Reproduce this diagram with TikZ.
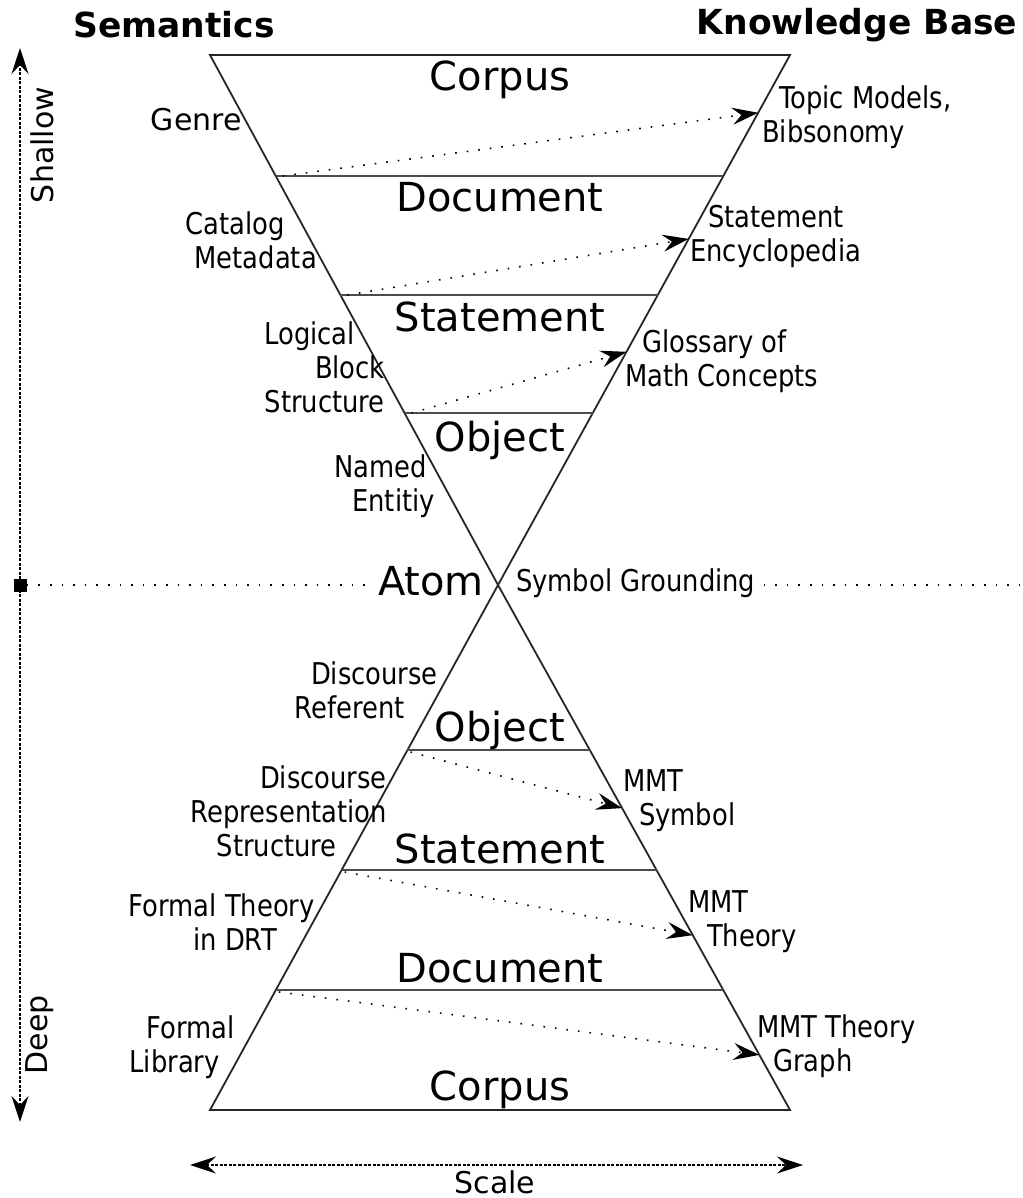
\documentclass[tikz,border=0pt]{standalone}
\usepackage{fontspec}
\setmainfont{DejaVu Sans}
\newfontfamily\condfont{DejaVu Sans}[FakeStretch=0.86]
\usetikzlibrary{arrows.meta,calc}

\begin{document}
\begin{tikzpicture}[x=1pt,y=-1pt,
  edge/.style={line width=1.8pt, line join=miter, black!85},
  level/.style={line width=2pt, draw=black!70},
  big/.style={font=\fontsize{40}{46}\selectfont, inner sep=0pt, anchor=base},
  head/.style={font=\bfseries\fontsize{34.5}{40}\selectfont, inner sep=0pt},
  axislbl/.style={font=\fontsize{30}{36}\selectfont, inner sep=0pt},
  lbl/.style={font=\condfont\fontsize{30}{34}\selectfont, inner sep=0pt},
  lblr/.style={lbl, align=right, anchor=east},
  lbll/.style={lbl, align=left, anchor=west},
  conn/.style={line width=1.6pt, dash pattern=on 1.6pt off 10pt, black,
    -{Stealth[length=26pt,width=17pt,inset=9pt]}},
  axisarrow/.style={line width=1.4pt, dash pattern=on 3pt off 1.5pt, black,
    {Stealth[length=26pt,width=17pt,inset=9pt]}-{Stealth[length=26pt,width=17pt,inset=9pt]}},
  dotline/.style={line width=1.6pt, dash pattern=on 1.6pt off 10pt, black},
]
\useasboundingbox (0,0) rectangle (1022,1198);

% funnel corners
\coordinate (TL) at (210,55);
\coordinate (TR) at (790,55);
\coordinate (A)  at (498,585);
\coordinate (BL) at (210,1110);
\coordinate (BR) at (790,1110);

\draw[edge] (TL) -- (TR) -- (A) -- (BL) -- (BR) -- (A) -- cycle;

% level lines (top)
\coordinate (t1l) at ($(TL)!0.2283!(A)$); \coordinate (t1r) at ($(TR)!0.2283!(A)$);
\coordinate (t2l) at ($(TL)!0.4528!(A)$); \coordinate (t2r) at ($(TR)!0.4528!(A)$);
\coordinate (t3l) at ($(TL)!0.6755!(A)$); \coordinate (t3r) at ($(TR)!0.6755!(A)$);
\draw[level] (t1l) -- (t1r);
\draw[level] (t2l) -- (t2r);
\draw[level] (t3l) -- (t3r);
% level lines (bottom)
\coordinate (b1l) at ($(A)!0.3143!(BL)$); \coordinate (b1r) at ($(A)!0.3143!(BR)$);
\coordinate (b2l) at ($(A)!0.5429!(BL)$); \coordinate (b2r) at ($(A)!0.5429!(BR)$);
\coordinate (b3l) at ($(A)!0.7714!(BL)$); \coordinate (b3r) at ($(A)!0.7714!(BR)$);
\draw[level] (b1l) -- (b1r);
\draw[level] (b2l) -- (b2r);
\draw[level] (b3l) -- (b3r);

% arrow targets on the right edge
\coordinate (r1) at ($(TR)!0.109!(A)$);
\coordinate (r2) at ($(TR)!0.347!(A)$);
\coordinate (r3) at ($(TR)!0.560!(A)$);
\coordinate (r4) at ($(A)!0.425!(BR)$);
\coordinate (r5) at ($(A)!0.667!(BR)$);
\coordinate (r6) at ($(A)!0.895!(BR)$);

\draw[conn] ($(t1l)+(7,0)$) -- (r1);
\draw[conn] ($(t2l)+(7,0)$) -- (r2);
\draw[conn] ($(t3l)+(7,0)$) -- (r3);
\draw[conn] ($(b1l)+(3,2)$) -- (r4);
\draw[conn] ($(b2l)+(3,2)$) -- (r5);
\draw[conn] ($(b3l)+(3,2)$) -- (r6);

% headers
\node[head] (sem) at (174,25) {Semantics};
\node[head] (kb) at (857,25) {Knowledge Base};

% level names
\node[big] (corpus1) at (500,91) {Corpus};
\node[big] (doc1) at (500,212) {Document};
\node[big] (stmt1) at (500,331) {Statement};
\node[big] (obj1) at (500,451) {Object};
\node[big] (atom) at (431,595) {Atom};
\node[big] (obj2) at (500,741) {Object};
\node[big] (stmt2) at (500,863) {Statement};
\node[big] (doc2) at (500,982) {Document};
\node[big] (corpus2) at (500,1100) {Corpus};

% left labels (top)
\node[lblr, font=\fontsize{30}{34}\selectfont] (genre) at (242,120) {Genre};
\node[lblr] (catalog) at (317,240) {Catalog\hspace*{32pt}\\Metadata};
\node[lblr] (logical) at (385,367) {Logical\hspace*{30pt}\\Block\hspace*{19pt}\\Structure};
\node[lblr] (named) at (435,486) {Named\hspace*{8pt}\\Entitiy};
% right labels (top)
\node[lbll] (topic) at (762,117) {\hspace*{17pt}Topic Models,\\Bibsonomy};
\node[lbll] (stenc) at (690,236) {\hspace*{18pt}Statement\\Encyclopedia};
\node[lbll] (gloss) at (625,361) {\hspace*{17pt}Glossary of\\Math Concepts};
\node[lbll] (sg) at (516,583) {Symbol Grounding};
% left labels (bottom)
\node[lblr] (dref) at (438,690) {Discourse\\Referent\hspace*{33pt}};
\node[lblr] (drs) at (387,811) {Discourse\\Representation\hspace*{24pt}\\Structure\hspace*{50pt}};
\node[lblr] (fth) at (315,922) {Formal Theory\\in DRT\hspace*{38pt}};
\node[lblr] (flib) at (235,1047) {Formal\\Library\hspace*{15pt}};
% right labels (bottom)
\node[lbll] (msym) at (623,801) {MMT\\\hspace*{16pt}Symbol};
\node[lbll] (mth) at (688,922) {MMT\\\hspace*{19pt}Theory};
\node[lbll] (mtg) at (757,1046) {MMT Theory\\\hspace*{16pt}Graph};

% depth axis
\coordinate (vtop) at (20,48);
\coordinate (vbot) at (20,1122);
\draw[axisarrow] (vbot) -- (vtop);
\node[fill=black, minimum size=13pt, inner sep=0pt] (sq) at (20,585) {};
\coordinate (rend) at (1022,585);
\draw[dotline, shorten >=5pt] (sq) -- (sq -| atom.west);
\draw[dotline, shorten <=8pt] (sq -| sg.east) -- (rend);
\node[axislbl, rotate=90] (shallow) at (42,145) {Shallow};
\node[axislbl, rotate=90] (deep) at (40,1035) {Deep};

% scale axis
\coordinate (sl) at (190,1165);
\coordinate (sr) at (803,1165);
\draw[axisarrow] (sl) -- (sr);
\node[axislbl] (scale) at (495,1182) {Scale};
\end{tikzpicture}
\end{document}
